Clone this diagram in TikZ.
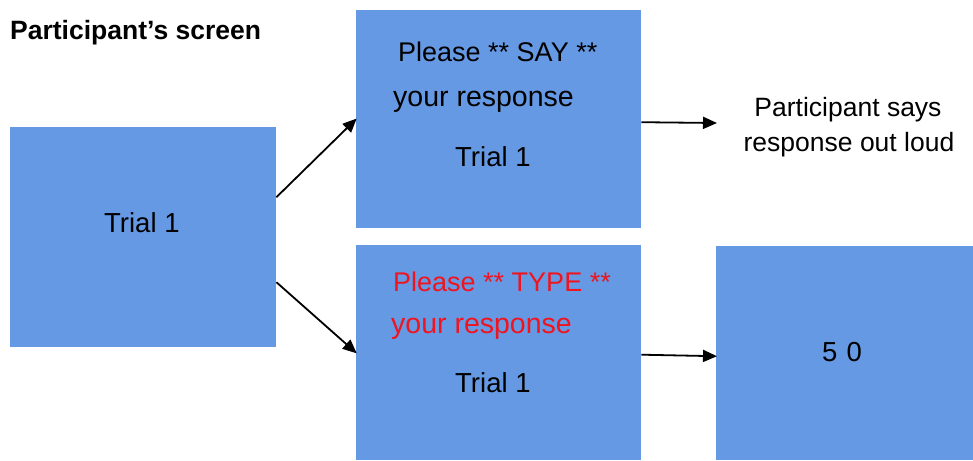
\documentclass[tikz,border=0pt]{standalone}
\usepackage{fontspec}
\setmainfont{Liberation Sans}
\usetikzlibrary{arrows.meta}
\definecolor{screenblue}{RGB}{102,153,227}
\definecolor{promptred}{RGB}{240,20,30}
\tikzset{
  screen/.style={fill=screenblue, draw=none, inner sep=0pt, anchor=north west},
  body/.style={font=\fontsize{27.5}{32}\selectfont, inner sep=0pt, text=black, anchor=base west},
  flow/.style={-{Triangle[length=14pt,width=12pt]}, line width=1.8pt, black, shorten >=-1pt}
}
\begin{document}
\begin{tikzpicture}[x=1pt,y=-1pt]
  \useasboundingbox (0,0) rectangle (973,460);

  % heading
  \node[font=\fontsize{26.5}{30}\bfseries, inner sep=0pt, anchor=base west] (title) at (10,39.5) {Participant’s screen};

  % screens
  \node[screen, minimum width=266pt, minimum height=220pt] (b1) at (10,127) {};
  \node[screen, minimum width=285pt, minimum height=218pt] (b2) at (356,10) {};
  \node[screen, minimum width=285pt, minimum height=215pt] (b3) at (356,245) {};
  \node[screen, minimum width=257pt, minimum height=214pt] (b4) at (716,246) {};

  % screen texts
  \node[body] (t1) at (104,232) {Trial 1};

  \node[body, font=\fontsize{27}{32}\selectfont] (s1) at (398,61) {Please ** SAY **};
  \node[body, font=\fontsize{28.5}{32}\selectfont] (s2) at (393,106) {your response};
  \node[body] (s3) at (455,166) {Trial 1};

  \node[body, text=promptred, font=\fontsize{27}{32}\selectfont] (p1) at (393,291.5) {Please ** TYPE **};
  \node[body, text=promptred, font=\fontsize{28.5}{32}\selectfont] (p2) at (391,333) {your response};
  \node[body] (p3) at (455,392.5) {Trial 1};

  \node[body, anchor=base] (n50) at (842,361.5) {5\,\,0};

  % spoken response
  \node[body, anchor=base, font=\fontsize{26.5}{30}\selectfont] (say1) at (848,116.5) {Participant says};
  \node[body, anchor=base, font=\fontsize{26.5}{30}\selectfont] (say2) at (849,151) {response out loud};
  \coordinate (sayin) at (716,123);

  % connectors
  \draw[flow] ([yshift=40pt]b1.east) -- (b2.west);
  \draw[flow] ([yshift=-45pt]b1.east) -- (b3.west);
  \draw[flow] ([yshift=-3pt]b2.east) -- (sayin);
  \draw[flow] ([yshift=-2pt]b3.east) -- ([yshift=-3pt]b4.west);
\end{tikzpicture}
\end{document}
